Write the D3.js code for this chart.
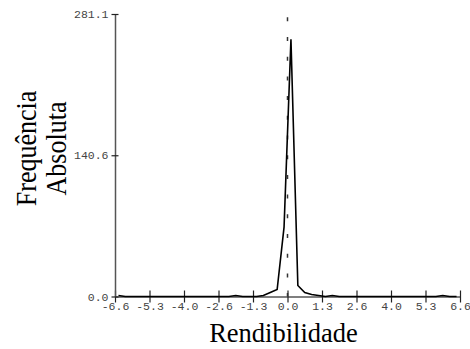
<!DOCTYPE html>
<html>
<head>
<meta charset="utf-8">
<script src="https://cdn.jsdelivr.net/npm/d3@7"></script>
<style>
html,body{margin:0;padding:0;background:#fff;}
svg{display:block;}
.serif{font-family:"Liberation Serif","Times New Roman",Times,"DejaVu Serif",serif;}
.mono{font-family:"Liberation Mono","Courier New",Courier,"DejaVu Sans Mono",monospace;}
</style>
</head>
<body>
<svg id="chart" width="470" height="349"></svg>
<script>
// Frequency polygon of "Rendibilidade": 50 bins between -6.6 and 6.6, values at bin centres
const binCenters = [
 -6.468,-6.204,-5.94,-5.676,-5.412,-5.148,-4.884,-4.62,-4.356,-4.092,
 -3.828,-3.564,-3.3,-3.036,-2.772,-2.508,-2.244,-1.98,-1.716,-1.452,
 -1.188,-0.924,-0.66,-0.396,-0.132,0.132,0.396,0.66,0.924,1.188,
 1.452,1.716,1.98,2.244,2.508,2.772,3.036,3.3,3.564,3.828,
 4.092,4.356,4.62,4.884,5.148,5.412,5.676,5.94,6.204,6.468
];
const frequencies = [
 1,0,0,0,0,0,0,0,0,0,
 0,0,0,0,0,0,0,1,0,0,
 0,1,4,7,69,256,11,4,2,1,
 0,1,0,0,0,0,0,0,0,0,
 0,0,0,0,0,0,0,1,0,0
];
const xTicks = [-6.6,-5.28,-3.96,-2.64,-1.32,0,1.32,2.64,3.96,5.28,6.6];
const xTickLabels = ["-6.6","-5.3","-4.0","-2.6","-1.3","0.0","1.3","2.6","4.0","5.3","6.6"];
const yTicks = [0,140.55,281.1];
const yTickLabels = ["0.0","140.6","281.1"];
const xDomain = [-6.6,6.6];
const yDomain = [0,281.1];
const xTitle = "Rendibilidade";
const yTitleLines = ["Frequência","Absoluta"];
const refValue = 0;

const svg = d3.select("#chart");
const L = 115, R = 460, T = 14, B = 296.5;
const x = d3.scaleLinear().domain(xDomain).range([L,R]);
const y = d3.scaleLinear().domain(yDomain).range([B,T]);

// x axis
const xAxis = d3.axisBottom(x).tickValues(xTicks)
  .tickFormat((d,i)=>xTickLabels[i]).tickSizeInner(6).tickSizeOuter(0).tickPadding(0);
const gx = svg.append("g").attr("transform",`translate(0,${B})`).call(xAxis)
  .attr("font-family",null).attr("font-size",null);
gx.select(".domain").attr("stroke","#555").attr("stroke-width",1.5);
gx.selectAll(".tick line").attr("y1",-6).attr("y2",6).attr("stroke","#222").attr("stroke-width",1.2);
gx.selectAll(".tick text").attr("y",13.5).attr("dy",null).attr("class","mono")
  .style("font-size","11.5px").attr("fill","#444");

// y axis
const yAxis = d3.axisLeft(y).tickValues(yTicks)
  .tickFormat((d,i)=>yTickLabels[i]).tickSizeInner(3.5).tickSizeOuter(0).tickPadding(3);
const gy = svg.append("g").attr("transform",`translate(${L},0)`).call(yAxis)
  .attr("font-family",null).attr("font-size",null);
gy.select(".domain").attr("stroke","#555").attr("stroke-width",1.5);
gy.selectAll(".tick line").attr("x1",-3.5).attr("x2",3.5).attr("stroke","#222").attr("stroke-width",1.2);
gy.selectAll(".tick text").attr("class","mono").style("font-size","11.5px").attr("fill","#444");

// dashed reference line at 0
svg.append("line")
  .attr("x1",x(refValue)).attr("x2",x(refValue))
  .attr("y1",17.3).attr("y2",B)
  .attr("stroke","#333").attr("stroke-width",1.5)
  .attr("stroke-dasharray","4,15.7");

// frequency polygon
const pts = binCenters.map((c,i)=>[c,frequencies[i]]);
const line = d3.line().x(d=>x(d[0])).y(d=>y(d[1]));
svg.append("path").datum(pts)
  .attr("d",line).attr("fill","none")
  .attr("stroke","#000").attr("stroke-width",1.6).attr("stroke-linejoin","miter");

// x title
svg.append("text").attr("x",283.5).attr("y",341.5).attr("class","serif")
  .attr("text-anchor","middle").style("font-size","26.5px")
  .attr("fill","#000").text(xTitle);

// y title (two lines, rotated)
const yBaselines = [35.5,65.5];
yTitleLines.forEach((t,i)=>{
  svg.append("text").attr("class","serif")
    .attr("transform",`translate(${yBaselines[i]},148.5) rotate(-90) scale(1,1.15)`)
    .attr("text-anchor","middle").style("font-size","26px")
    .attr("fill","#000").text(t);
});
</script>
</body>
</html>
